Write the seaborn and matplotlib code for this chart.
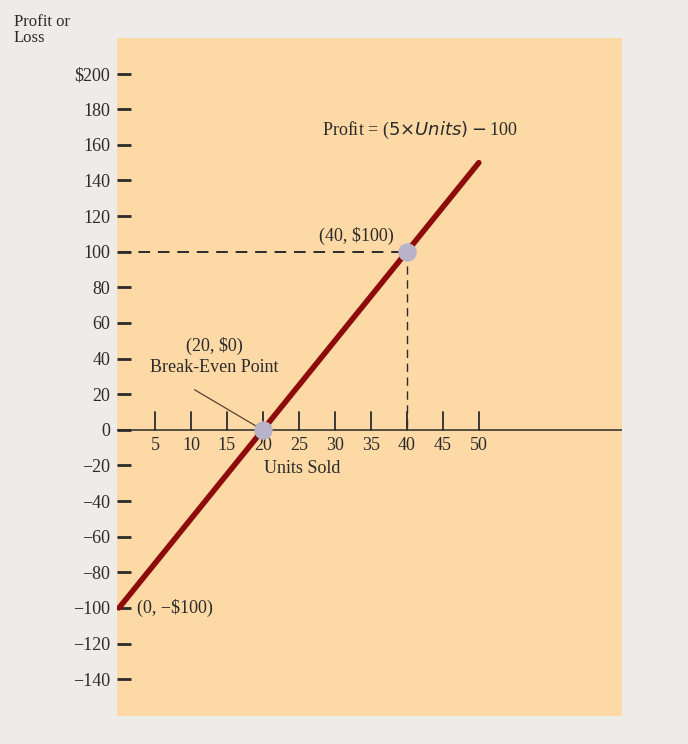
import numpy as np
import matplotlib.pyplot as plt
import seaborn as sns

sns.set_style("white")
plt.rcParams['font.family'] = ['Liberation Serif', 'DejaVu Serif']

units = np.array([0, 10, 20, 30, 40, 50])
profit = 5 * units - 100
x_ticks = [5, 10, 15, 20, 25, 30, 35, 40, 45, 50]
y_ticks = [200, 180, 160, 140, 120, 100, 80, 60, 40, 20, 0, -20, -40, -60, -80, -100, -120, -140]
points_x = [20, 40]
points_y = [0, 100]

txt = "#2b2b2b"
fig = plt.figure(figsize=(6.88, 7.44), dpi=100, facecolor="#eeece9")
ax = fig.add_axes([117/688, 28/744, 505/688, 678/744])
ax.set_facecolor("#fdd9a5")
for s in ax.spines.values():
    s.set_visible(False)
ax.set_xlim(-0.28, 69.9)
ax.set_ylim(-160.7, 220)

ax.axhline(0, color=txt, lw=1.1)
sns.lineplot(x=units, y=profit, ax=ax, color="#8e0b0b", lw=4, zorder=3)
ax.plot([0, 40], [100, 100], color=txt, lw=1.4, ls=(0, (6, 4)))
ax.plot([40, 40], [100, 0], color=txt, lw=1.0, ls=(0, (6, 4)))
ax.scatter(points_x, points_y, s=150, color="#b9b3c9", zorder=5)

ax.set_yticks(y_ticks)
ax.set_yticklabels([f"${v}" if v == 200 else (f"\u2212{-v}" if v < 0 else str(v)) for v in y_ticks],
                   fontsize=13, color=txt)
ax.tick_params(axis='y', direction='in', length=10, width=2, color=txt, pad=5, left=True)
ax.set_xticks([])
for t in x_ticks:
    ax.plot([t, t], [0, 10], color=txt, lw=1.3)
    ax.text(t, -4, str(t), ha='center', va='top', fontsize=13, color=txt)
ax.text(25.5, -17, "Units Sold", ha='center', va='top', fontsize=13, color=txt)

ax.text(41.8, 168, "Profit = ($5 \u00d7 Units) \u2212 $100", ha='center', va='center', fontsize=13, color=txt)
ax.text(33, 109, "(40, $100)", ha='center', va='center', fontsize=13, color=txt)
ax.text(13.3, 47, "(20, $0)", ha='center', va='center', fontsize=13, color=txt)
ax.text(13.3, 35, "Break-Even Point", ha='center', va='center', fontsize=13, color=txt)
ax.plot([10.5, 19.5], [22.5, 1], color="#5a4030", lw=0.9)
ax.text(2.5, -100, "(0, \u2212$100)", ha='left', va='center', fontsize=13, color=txt)

fig.text(14/688, 1 - 14/744, "Profit or\nLoss", ha='left', va='top', fontsize=12, color=txt, linespacing=1.0)

fig.savefig("out.png", dpi=100, facecolor=fig.get_facecolor())
